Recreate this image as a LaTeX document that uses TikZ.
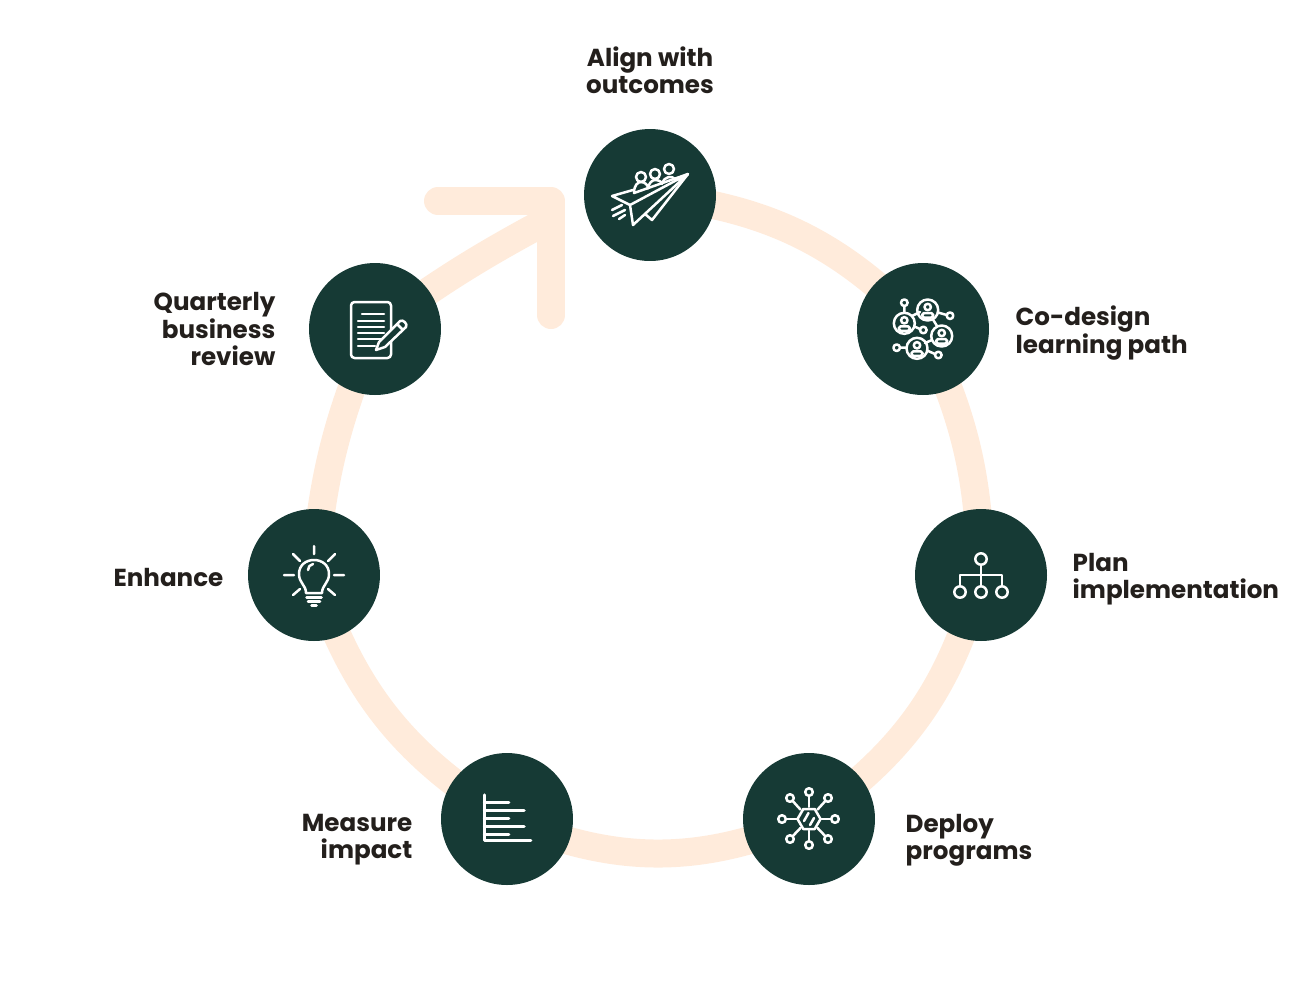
\documentclass[tikz,border=0pt]{standalone}
\usepackage{fontspec}
\usetikzlibrary{positioning,backgrounds}
\newfontfamily\labelfamily{Poppins}
\definecolor{ringpeach}{HTML}{FFEBDB}
\definecolor{stagegreen}{HTML}{163A35}
\definecolor{labelink}{HTML}{231F1C}
\tikzset{
  stage/.style={circle,fill=stagegreen,minimum size=2.64cm,inner sep=0pt},
  steplabel/.style={font=\labelfamily\bfseries\fontsize{14}{15.4}\selectfont,text=labelink,inner sep=0pt},
  ringline/.style={line width=0.56cm,ringpeach},
  arrowhead/.style={line width=0.56cm,ringpeach,line cap=round,line join=round},
  iconline/.style={draw=white,line width=0.05cm,line cap=round,line join=round},
  planeicon/.pic={
    \draw[iconline] (-17,-5) -- (-38,1) -- (-20,10) -- (38,-21) -- (-17,30) -- (-20,10);
    \draw[iconline] (-16,-2) -- (38,-21);
    \draw[iconline] (-5,19) -- (2,25) -- (38,-21);
    \foreach \hx/\hy in {-9/-18,5/-21,19/-26} {\draw[iconline] (\hx,\hy) circle (5);}
    \draw[iconline] (-16,-2) .. controls (-16,-10) and (-12,-13) .. (-9,-13) .. controls (-5,-13) and (-2,-10) .. (-2,-6.5);
    \draw[iconline] (-2,-7) .. controls (-1,-12) and (2,-15) .. (5,-15) .. controls (9,-15) and (12,-13) .. (12,-11);
    \draw[iconline] (12,-12) .. controls (14,-18) and (22,-20) .. (25,-16);
    \draw[iconline] (-28,10) -- (-38,15) (-25,15) -- (-37,21) (-25,20) -- (-31,24);
  },
  peopleicon/.pic={
    \foreach \px/\py in {4.7/-19,-18.7/-5.7,18.7/7,-6/19.3} {
      \draw[iconline] (\px,\py) circle (10.5);
      \draw[iconline] (\px,\py-3) circle (3.2);
      \draw[iconline,rounded corners=1pt] (\px-5.5,\py+3) rectangle (\px+5.5,\py+7.5);
    }
    \foreach \sx/\sy in {-18.7/-26.3,27/-13.3,0.3/1,-26.3/18.7,15.3/26} {\draw[iconline] (\sx,\sy) circle (3.3);}
    \draw[iconline] (-18.7,-23) -- (-18.7,-16.5) (15,-16.5) -- (23.8,-14) (-11,-13) -- (-3,-17)
      (10,-9.5) -- (14,-3) (-8.5,-2.5) -- (-3,0) (-23,18.7) -- (-16.5,18.7) (2,14) -- (9,11) (4,21.5) -- (12,25);
  },
  treeicon/.pic={
    \foreach \tx/\ty in {0/-16,-21/17,0/17,21/17} {\draw[iconline] (\tx,\ty) circle (5.7);}
    \draw[iconline] (0,-10.3) -- (0,11.3) (-21,11.3) -- (-21,0) -- (21,0) -- (21,11.3);
  },
  hubicon/.pic={
    \draw[iconline] (-11.5,0) -- (-5.7,-10) -- (5.7,-10) -- (11.5,0) -- (5.7,10) -- (-5.7,10) -- cycle;
    \draw[iconline] (-5,2) -- (-0.5,-6) (1,6) -- (5,-1);
    \foreach \sx/\sy in {0/-27,19/-21,26/0,19/20,0/26,-19/20,-27/0,-19/-21} {
      \draw[iconline] (\sx,\sy) circle (3.8);
      \draw[iconline] ({\sx*0.45},{\sy*0.45}) -- ({\sx*0.85},{\sy*0.85});
    }
  },
  barsicon/.pic={
    \draw[iconline,line width=0.07cm] (-22.3,-24) -- (-22.3,21.7) -- (23.7,21.7);
    \foreach \by/\bx in {-16.3/1.7,-8.3/17,-0.3/1.7,7.7/17,15.7/1.7} {\draw[iconline,line width=0.07cm] (-22.3,\by) -- (\bx,\by);}
  },
  bulbicon/.pic={
    \draw[iconline] (-8,18) .. controls (-8,10) and (-15,8) .. (-15,-1) .. controls (-15,-10) and (-8,-15) .. (0,-15)
      .. controls (8,-15) and (15,-10) .. (15,-1) .. controls (15,8) and (8,10) .. (8,18) -- cycle;
    \draw[iconline] (-6,-5) .. controls (-6,-8) and (-4,-10.5) .. (-1,-11);
    \draw[iconline] (-7.5,22.5) -- (7.5,22.5) (-6,26.5) -- (6,26.5) (-2.5,30.5) -- (2.5,30.5);
    \draw[iconline] (0,-29) -- (0,-21) (-30,0) -- (-20,0) (20,0) -- (30,0) (-21,-21) -- (-14,-14)
      (21,-21) -- (14,-14) (-21,20) -- (-14,14) (21,20) -- (14,14);
  },
  reporticon/.pic={
    \draw[iconline,rounded corners=2pt] (-24,-27) rectangle (16,29);
    \draw[iconline] (-13,-15) -- (9,-15);
    \foreach \ly in {-8,-2,4,10} {\draw[iconline] (-17,\ly) -- (9,\ly);}
    \draw[iconline] (-17,17) -- (0,17);
    \draw[iconline,fill=stagegreen] (1,21) -- (4,13) -- (25,-8) .. controls (28,-10) and (33,-5) .. (31,-2) -- (10,18) -- cycle;
    \draw[iconline] (22,-5) -- (28,1);
  }
}
\begin{document}
\begin{tikzpicture}[x=0.02cm,y=-0.02cm,node distance=0.56cm]
  \useasboundingbox (0,0) rectangle (1300,995);
  \coordinate (tip) at (551,201);
  \coordinate (shaftend) at (552,218);
  \coordinate (barbleft) at (438,201);
  \coordinate (barbdown) at (551,315);

  \node[stage] (align) at (650,195) {};
  \node[stage] (codesign) at (923,329) {};
  \node[stage] (plan) at (981,575) {};
  \node[stage] (deploy) at (809,819) {};
  \node[stage] (measure) at (507,819) {};
  \node[stage] (enhance) at (314,575) {};
  \node[stage] (review) at (375,329) {};

  \begin{pgfonlayer}{background}
    \draw[ringline] (align.center) to[bend left=20] (codesign.center);
    \draw[ringline] (codesign.center) to[bend left=12] (plan.center);
    \draw[ringline] (plan.center) to[bend left=20] (deploy.center);
    \draw[ringline] (deploy.center) to[bend left=23] (measure.center);
    \draw[ringline] (measure.center) to[bend left=20] (enhance.center);
    \draw[ringline] (enhance.center) to[bend left=9] (review.center);
    \draw[ringline] (review.center) to[bend left=4] (shaftend);
    \draw[arrowhead] (barbleft) -- (tip) -- (barbdown);
  \end{pgfonlayer}

  \pic at (align) {planeicon};
  \pic at (codesign) {peopleicon};
  \pic at (plan) {treeicon};
  \pic at (deploy) {hubicon};
  \pic at (measure) {barsicon};
  \pic at (enhance) {bulbicon};
  \pic at (review) {reporticon};

  \node[steplabel,align=center,above=0.7cm of align] (alignlabel) {Align with\\outcomes};
  \node[steplabel,align=left,right=0.52cm of codesign,yshift=-0.08cm] (codesignlabel) {Co-design\\learning path};
  \node[steplabel,align=left,right=0.5cm of plan,yshift=-0.08cm] (planlabel) {Plan\\implementation};
  \node[steplabel,align=left,right=0.6cm of deploy,yshift=-0.42cm] (deploylabel) {Deploy\\programs};
  \node[steplabel,align=right,left=0.56cm of measure,yshift=-0.42cm] (measurelabel) {Measure\\impact};
  \node[steplabel,align=right,left=0.48cm of enhance,yshift=-0.04cm] (enhancelabel) {Enhance};
  \node[steplabel,align=right,left=0.66cm of review] (reviewlabel) {Quarterly\\business\\review};
\end{tikzpicture}
\end{document}
